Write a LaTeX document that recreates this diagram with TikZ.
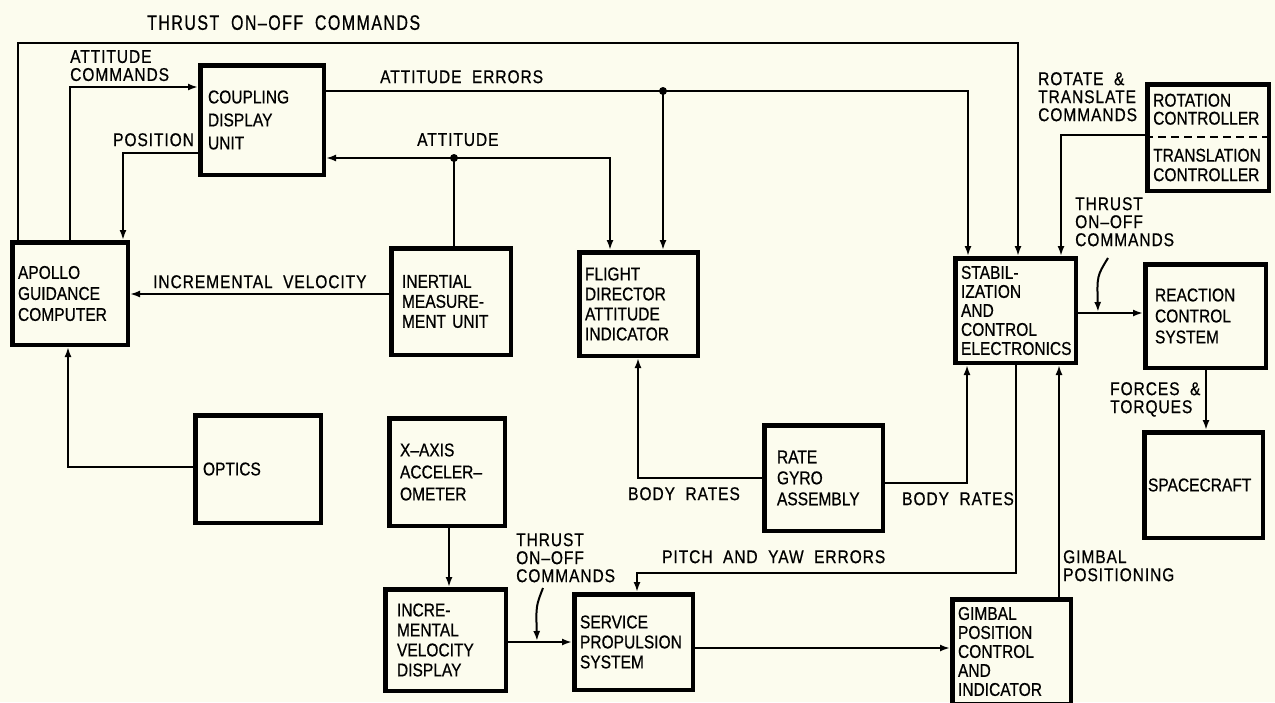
\documentclass[tikz,border=0pt]{standalone}
\usepackage{fontspec}
\setmainfont{Liberation Sans}[FakeStretch=0.84,FakeBold=0.6]
\newfontfamily\lblfont{Liberation Sans}[FakeStretch=0.84,FakeBold=0.6,LetterSpace=5,WordSpace=2]
\newfontfamily\toplblfont{Liberation Sans}[FakeStretch=0.76,FakeBold=0.6,LetterSpace=7,WordSpace=2]
\usetikzlibrary{arrows.meta}
\definecolor{paper}{RGB}{252,252,238}
\tikzset{
  blk/.style={draw, line width=4.5pt, align=left, anchor=north west, inner ysep=0pt, font=\fontsize{18.5}{20}\selectfont},
  bs/.style={font=\fontsize{18.5}{#1}\selectfont},
  lbl/.style={anchor=north west, inner sep=0pt, align=left, font=\lblfont\fontsize{18.5}{18}\selectfont},
  toplbl/.style={anchor=north west, inner sep=0pt, align=left, font=\toplblfont\fontsize{21}{22}\selectfont},
  intxt/.style={anchor=north west, inner sep=0pt, align=left},
  conn/.style={line width=2pt},
  arr/.style={conn, -{Latex[length=10pt,width=7pt]}},
  jdot/.style={circle, fill, inner sep=0pt, minimum size=8pt},
}
\begin{document}
\begin{tikzpicture}[x=1pt,y=-1pt]
\fill[paper] (0,0) rectangle (1275,702);
\useasboundingbox (0,0) rectangle (1275,702);

% boxes
\node[blk, inner xsep=7.75pt, text width=108pt, minimum height=109.5pt, bs=23] (cdu) at (198,63) {COUPLING\\DISPLAY\\UNIT};
\node[blk, inner xsep=5.75pt, text width=104pt, minimum height=102.5pt, bs=21] (agc) at (10,240) {APOLLO\\GUIDANCE\\COMPUTER};
\node[blk, inner xsep=10.75pt, text width=98pt, minimum height=106.5pt] (imu) at (389,246) {INERTIAL\\MEASURE-\\MENT UNIT};
\node[blk, inner xsep=5.75pt, text width=107pt, minimum height=103.5pt] (fdai) at (577,250) {FLIGHT\\DIRECTOR\\ATTITUDE\\INDICATOR};
\node[blk, inner xsep=5.75pt, text width=109pt, minimum height=104.5pt, bs=19] (sce) at (953,256) {STABIL-\\IZATION\\AND\\CONTROL\\ELECTRONICS};
\node[blk, inner xsep=9.75pt, text width=101pt, minimum height=103.5pt, bs=21] (rcs) at (1143,262) {REACTION\\CONTROL\\SYSTEM};
\node[blk, minimum width=121.5pt, minimum height=106.5pt] (ctrl) at (1145,82) {};
\node[intxt, font=\fontsize{18.5}{18}\selectfont] (rot) at (1153,93.5) {ROTATION\\CONTROLLER};
\node[intxt, font=\fontsize{18.5}{19.5}\selectfont] (trans) at (1153,148.5) {TRANSLATION\\CONTROLLER};
\coordinate (dsh) at (0,137);
\draw[conn, dash pattern=on 8pt off 5pt] (ctrl.west |- dsh) -- (ctrl.east |- dsh);
\node[blk, inner xsep=3.75pt, text width=111pt, minimum height=105.5pt] (spc) at (1142,430) {SPACECRAFT};
\node[blk, inner xsep=7.75pt, text width=110pt, minimum height=107.5pt] (optics) at (193,413) {OPTICS};
\node[blk, inner xsep=10.75pt, text width=94pt, minimum height=107.5pt, bs=22] (xacc) at (387,416) {X–AXIS\\ACCELER–\\OMETER};
\node[blk, inner xsep=11.75pt, text width=97pt, minimum height=101.5pt] (ivd) at (383,587) {INCRE-\\MENTAL\\VELOCITY\\DISPLAY};
\node[blk, inner xsep=5.75pt, text width=107pt, minimum height=95.5pt] (sps) at (572,592) {SERVICE\\PROPULSION\\SYSTEM};
\node[blk, inner xsep=12.75pt, text width=93pt, minimum height=105.5pt, bs=21] (rga) at (762,423) {RATE\\GYRO\\ASSEMBLY};
\node[blk, inner xsep=5.75pt, text width=107pt, minimum height=104.5pt, bs=19] (gpc) at (950,597) {GIMBAL\\POSITION\\CONTROL\\AND\\INDICATOR};

% connectors
\coordinate (a1) at (18,43); \coordinate (a2) at (1018,43);
\draw[arr] (agc.north -| a1) -- (a1) -- (a2) -- (sce.north -| a2);

\coordinate (b1) at (70,87);
\draw[arr] (agc.north -| b1) -- (b1) -- (cdu.west |- b1);

\coordinate (c1) at (123,153);
\draw[arr] (cdu.west |- c1) -- (c1) -- (agc.north -| c1);

\coordinate (d1) at (663,91); \coordinate (d2) at (968,91);
\draw[arr] (cdu.east |- d1) -- (d2) -- (sce.north -| d2);
\draw[arr] (d1) -- (fdai.north -| d1);
\node[jdot] (jd) at (d1) {};

\coordinate (e1) at (454,158); \coordinate (e2) at (610,158);
\draw[arr] (imu.north -| e1) -- (e1) -- (cdu.east |- e1);
\draw[arr] (e1) -- (e2) -- (fdai.north -| e2);
\node[jdot] (je) at (e1) {};

\coordinate (f1) at (0,294);
\draw[arr] (imu.west |- f1) -- (agc.east |- f1);

\coordinate (g1) at (68,467);
\draw[arr] (optics.west |- g1) -- (g1) -- (agc.south -| g1);

\coordinate (h1) at (449,0);
\draw[arr] (xacc.south -| h1) -- (ivd.north -| h1);

\coordinate (i1) at (0,642);
\draw[arr] (ivd.east |- i1) -- (sps.west |- i1);
\coordinate (ip) at (543,588); \coordinate (iq) at (537,641);
\draw[arr] (ip) .. controls (536,606) .. (iq);

\coordinate (j1) at (0,648);
\draw[arr] (sps.east |- j1) -- (gpc.west |- j1);

\coordinate (k1) at (1016,573); \coordinate (k2) at (637,573);
\draw[arr] (sce.south -| k1) -- (k1) -- (k2) -- (sps.north -| k2);

\coordinate (l1) at (1059,0);
\draw[arr] (gpc.north -| l1) -- (sce.south -| l1);

\coordinate (m1) at (638,478);
\draw[arr] (rga.west |- m1) -- (m1) -- (fdai.south -| m1);

\coordinate (n1) at (967,483);
\draw[arr] (rga.east |- n1) -- (n1) -- (sce.south -| n1);

\coordinate (o1) at (0,313);
\draw[arr] (sce.east |- o1) -- (rcs.west |- o1);
\coordinate (op) at (1108,258); \coordinate (oq) at (1098,312);
\draw[arr] (op) .. controls (1097,276) .. (oq);

\coordinate (p1) at (1061,135);
\draw[arr] (ctrl.west |- p1) -- (p1) -- (sce.north -| p1);

\coordinate (q1) at (1206,0);
\draw[arr] (rcs.south -| q1) -- (spc.north -| q1);

% labels
\node[toplbl] (t1) at (147,15) {THRUST ON–OFF COMMANDS};
\node[lbl] (t2) at (70,50) {ATTITUDE\\COMMANDS};
\node[lbl] (t3) at (113,133) {POSITION};
\node[lbl] (t4) at (380,70) {ATTITUDE ERRORS};
\node[lbl] (t5) at (417,133) {ATTITUDE};
\node[lbl] (t6) at (153,275) {INCREMENTAL VELOCITY};
\node[lbl] (t7) at (1038,72) {ROTATE \&\\TRANSLATE\\COMMANDS};
\node[lbl] (t8) at (1075,197) {THRUST\\ON–OFF\\COMMANDS};
\node[lbl] (t9) at (1110,382) {FORCES \&\\TORQUES};
\node[lbl] (t10) at (628,487) {BODY RATES};
\node[lbl] (t11) at (902,492) {BODY RATES};
\node[lbl] (t12) at (662,550) {PITCH AND YAW ERRORS};
\node[lbl] (t13) at (1063,550) {GIMBAL\\POSITIONING};
\node[lbl] (t14) at (516,533) {THRUST\\ON–OFF\\COMMANDS};
\end{tikzpicture}
\end{document}
